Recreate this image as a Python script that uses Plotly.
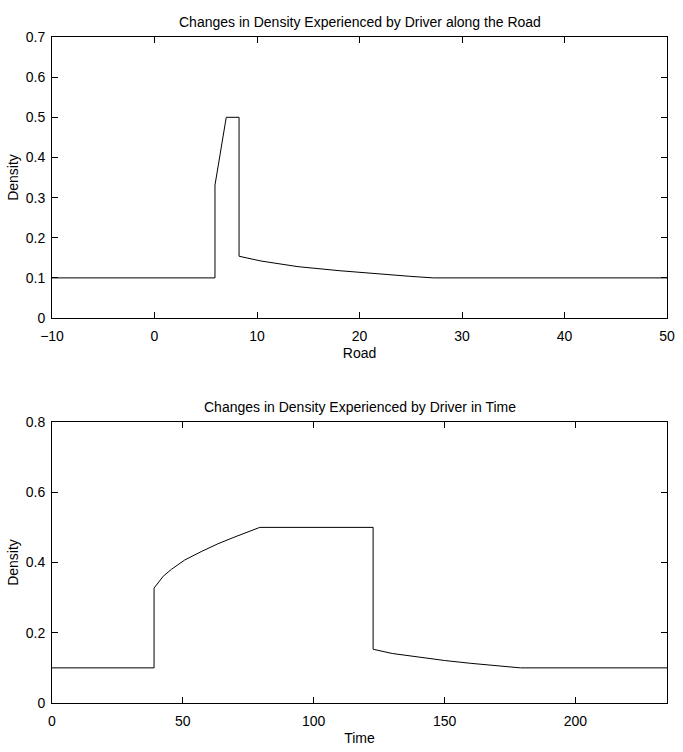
import plotly.graph_objects as go

# Top panel: density along the road
road_x = [-10, 5.9, 5.9, 7.0, 8.25, 8.25, 10.4, 14.0, 18.0, 21.7, 24.9, 27.2, 50]
road_density = [0.1, 0.1, 0.331, 0.5, 0.5, 0.154, 0.142, 0.128, 0.118, 0.110, 0.104, 0.1, 0.1]

# Bottom panel: density in time
time_t = [0, 39.0, 39.0, 40.5, 42.5, 45.7, 50.7, 57.0, 63.3, 69.6, 74.5, 79.4, 122.7, 122.7,
          130, 138.6, 150, 160, 170, 179, 235]
time_density = [0.1, 0.1, 0.327, 0.343, 0.361, 0.381, 0.407, 0.431, 0.453, 0.472, 0.486, 0.5,
                0.5, 0.153, 0.141, 0.132, 0.121, 0.113, 0.106, 0.1, 0.1]

top_title = "Changes in Density Experienced by Driver along the Road"
bottom_title = "Changes in Density Experienced by Driver in Time"

top_xticks = [-10, 0, 10, 20, 30, 40, 50]
top_yticks = [0, 0.1, 0.2, 0.3, 0.4, 0.5, 0.6, 0.7]
top_yticktext = ["0", "0.1", "0.2", "0.3", "0.4", "0.5", "0.6", "0.7"]
bot_xticks = [0, 50, 100, 150, 200]
bot_yticks = [0, 0.2, 0.4, 0.6, 0.8]
bot_yticktext = ["0", "0.2", "0.4", "0.6", "0.8"]

FONT = "Liberation Sans, Arial, sans-serif"
FS = 14

fig = go.Figure()
fig.add_trace(go.Scatter(x=road_x, y=road_density, mode="lines",
                         line=dict(color="black", width=1), xaxis="x", yaxis="y",
                         showlegend=False, hoverinfo="skip"))
fig.add_trace(go.Scatter(x=time_t, y=time_density, mode="lines",
                         line=dict(color="black", width=1), xaxis="x2", yaxis="y2",
                         showlegend=False, hoverinfo="skip"))

axis_common = dict(showline=True, linecolor="black", linewidth=1, mirror="ticks",
                   ticks="inside", ticklen=6, tickcolor="black", tickwidth=1,
                   showgrid=False, zeroline=False,
                   tickfont=dict(family=FONT, size=FS, color="black"))

top_dom = [0.578, 1.0]
bot_dom = [0.0, 0.4219]

fig.update_layout(
    width=683, height=752,
    margin=dict(l=52, r=8, t=37, b=49),
    paper_bgcolor="white", plot_bgcolor="white",
    font=dict(family=FONT, size=FS, color="black"),
    xaxis=dict(domain=[0, 1], range=[-10, 50], tickvals=top_xticks, anchor="y",
               ticklabelstandoff=5,
               title=dict(text="Road", font=dict(family=FONT, size=FS), standoff=5),
               **axis_common),
    yaxis=dict(domain=top_dom, range=[0, 0.7], tickvals=top_yticks, ticktext=top_yticktext,
               anchor="x", ticklabelstandoff=3,
               title=dict(text="Density", font=dict(family=FONT, size=FS), standoff=3),
               **axis_common),
    xaxis2=dict(domain=[0, 1], range=[0, 235], tickvals=bot_xticks, anchor="y2",
                ticklabelstandoff=5,
                title=dict(text="Time", font=dict(family=FONT, size=FS), standoff=5),
                **axis_common),
    yaxis2=dict(domain=bot_dom, range=[0, 0.8], tickvals=bot_yticks, ticktext=bot_yticktext,
                anchor="x2", ticklabelstandoff=3,
                title=dict(text="Density", font=dict(family=FONT, size=FS), standoff=3),
                **axis_common),
    annotations=[
        dict(text=top_title, xref="paper", yref="paper", x=0.5, y=top_dom[1],
             xanchor="center", yanchor="bottom", yshift=5, showarrow=False,
             font=dict(family=FONT, size=FS, color="black")),
        dict(text=bottom_title, xref="paper", yref="paper", x=0.5, y=bot_dom[1],
             xanchor="center", yanchor="bottom", yshift=5, showarrow=False,
             font=dict(family=FONT, size=FS, color="black")),
    ],
)

fig.write_html("out.html")
